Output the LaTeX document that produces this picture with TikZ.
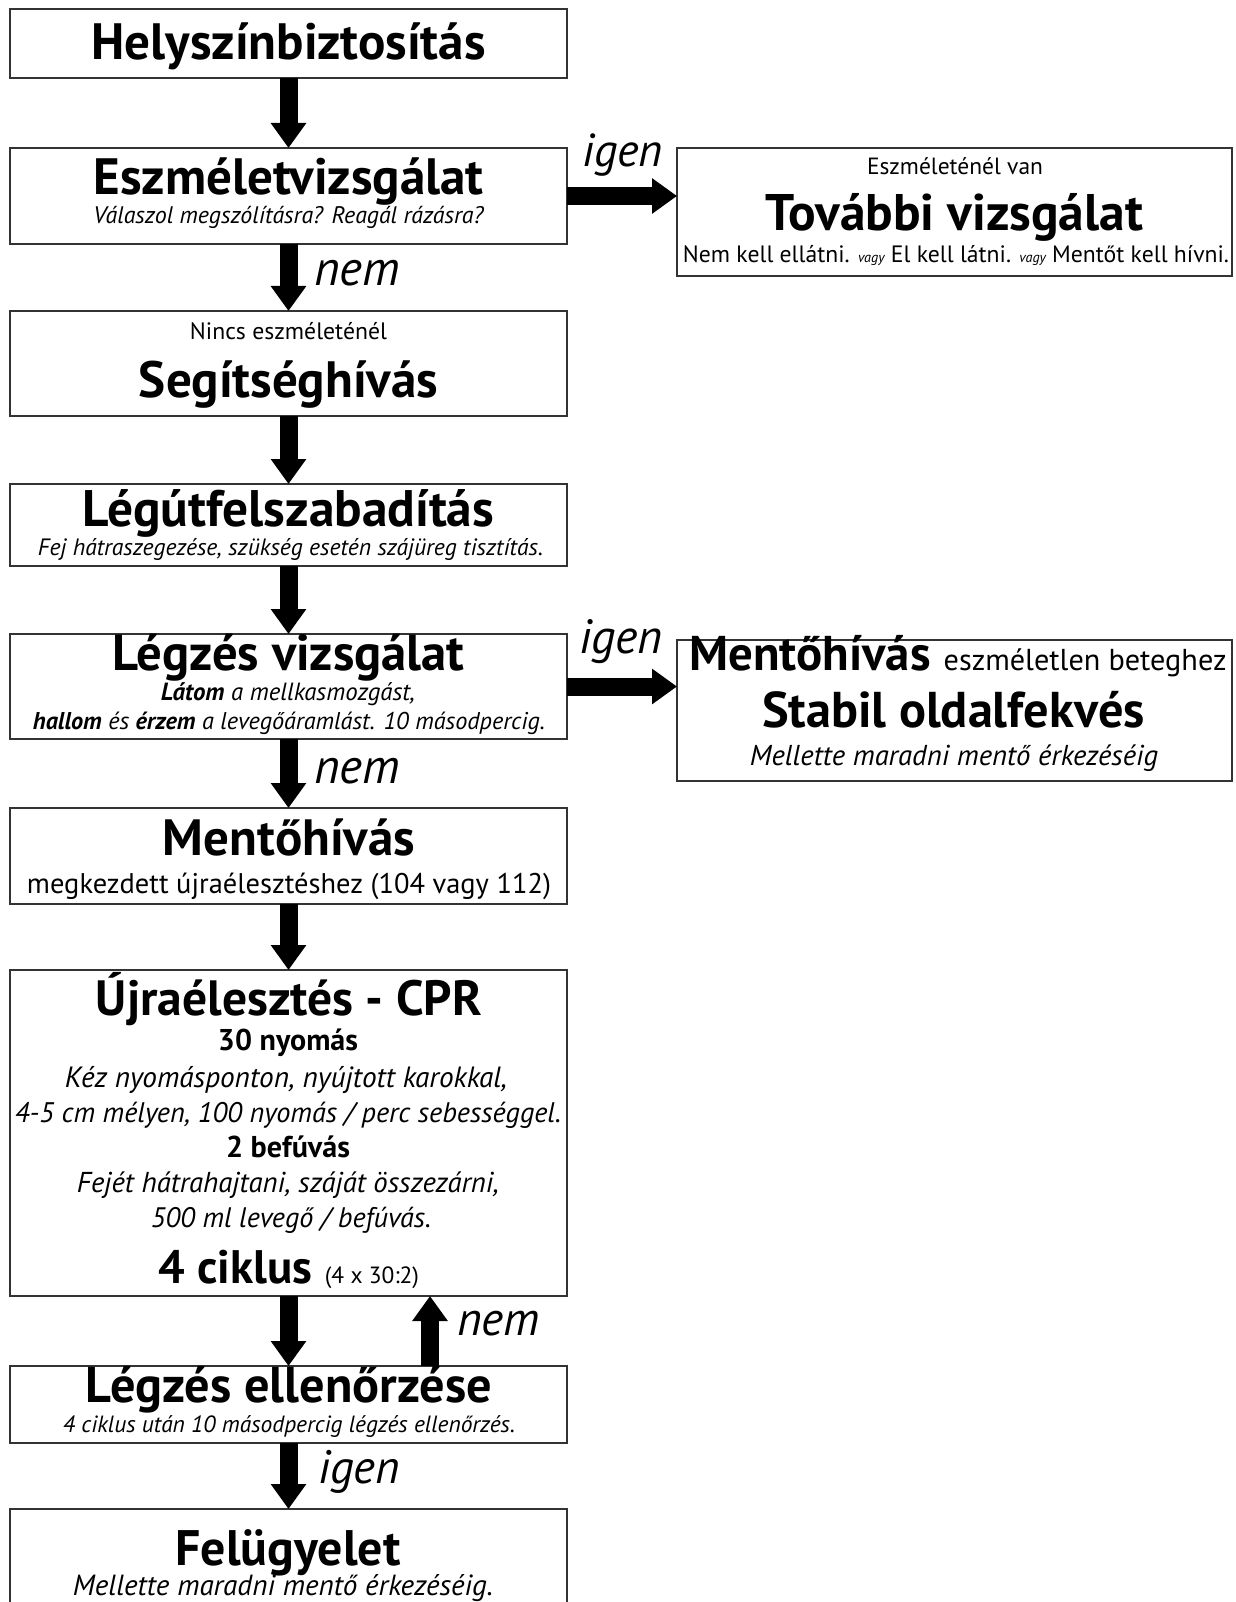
\documentclass[tikz,border=0pt]{standalone}
\usepackage{fontspec}
\setmainfont{PT Sans}
\usepackage{graphicx}
\usetikzlibrary{arrows.meta}
\newcommand\fw[2]{\resizebox{#1pt}{!}{#2}}
\tikzset{
  box/.style={draw=black!80, line width=2.2pt, rectangle, inner sep=0pt, outer sep=0pt, minimum width=557pt},
  rbox/.style={box, minimum width=555pt},
  flow/.style={line width=18pt, -{Triangle[length=25pt,width=34pt]}},
  t/.style={anchor=base, inner sep=0pt, outer sep=0pt},
  lab/.style={anchor=base west, inner sep=0pt, outer sep=0pt}
}
\begin{document}
\begin{tikzpicture}[x=1pt,y=-1pt]
\useasboundingbox (0,0) rectangle (1235,1602);
\clip (0,0) rectangle (1235,1602);
\fill[white] (0,0) rectangle (1235,1602);
% boxes
\node[box, minimum height=69pt]  (B1) at (288.5,43.5) {};
\node[box, minimum height=96pt]  (B2) at (288.5,196) {};
\node[box, minimum height=105pt] (B3) at (288.5,363.5) {};
\node[box, minimum height=82pt]  (B4) at (288.5,525) {};
\node[box, minimum height=105pt] (B5) at (288.5,686.5) {};
\node[box, minimum height=96pt]  (B6) at (288.5,856) {};
\node[box, minimum height=326pt] (B7) at (288.5,1133) {};
\node[box, minimum height=77pt]  (B8) at (288.5,1404.5) {};
\node[box, minimum height=151pt] (B9) at (288.5,1584.5) {};
\node[rbox, minimum height=128pt] (R1) at (954.5,212) {};
\node[rbox, minimum height=141pt] (R2) at (954.5,710.5) {};
% texts
\node[t] (t1) at (288.5,60) {\fw{394}{\bfseries Helyszínbiztosítás}};
\node[t] (t2a) at (288.5,195) {\fw{390}{\bfseries Eszméletvizsgálat}};
\node[t] (t2b) at (288.5,224) {\fw{390}{\itshape Válaszol megszólításra? Reagál rázásra?}};
\node[t] (t3a) at (288.5,339) {\fw{197}{Nincs eszméleténél}};
\node[t] (t3b) at (288.5,397) {\fw{299}{\bfseries Segítséghívás}};
\node[t] (t4a) at (288.5,526) {\fw{411}{\bfseries Légútfelszabadítás}};
\node[t] (t4b) at (290.5,555) {\fw{505}{\itshape Fej hátraszegezése, szükség esetén szájüreg tisztítás.}};
\node[t] (t5a) at (288.5,670) {\fw{352}{\bfseries Légzés vizsgálat}};
\node[t] (t5b) at (288,700) {\fw{254}{\itshape\textbf{Látom} a mellkasmozgást,}};
\node[t] (t5c) at (289,729) {\fw{512}{\itshape\textbf{hallom} és \textbf{érzem} a levegőáramlást. 10 másodpercig.}};
\node[t] (t6a) at (289,855) {\fw{252}{\bfseries Mentőhívás}};
\node[t] (t6b) at (289,893) {\fw{524}{megkezdett újraélesztéshez (104 vagy 112)}};
\node[t] (t7a) at (289,1015) {\fw{386}{\bfseries Újraélesztés - CPR}};
\node[t] (t7b) at (288,1050) {\fw{140}{\bfseries 30 nyomás}};
\node[t] (t7c) at (286,1087) {\fw{442}{\itshape Kéz nyomásponton, nyújtott karokkal,}};
\node[t] (t7d) at (288,1122) {\fw{546}{\itshape 4-5 cm mélyen, 100 nyomás / perc sebességgel.}};
\node[t] (t7e) at (288,1157) {\fw{124}{\bfseries 2 befúvás}};
\node[t] (t7f) at (288,1192) {\fw{422}{\itshape Fejét hátrahajtani, száját összezárni,}};
\node[t] (t7g) at (291,1227) {\fw{280}{\itshape 500 ml levegő / befúvás.}};
\node[t] (t7h) at (289,1283) {\fw{260}{{\bfseries 4 ciklus} {\fontsize{5}{6}\selectfont (4 x 30:2)}}};
\node[t] (t8a) at (289,1402) {\fw{406}{\bfseries Légzés ellenőrzése}};
\node[t] (t8b) at (289,1432) {\fw{452}{\itshape 4 ciklus után 10 másodpercig légzés ellenőrzés.}};
\node[t] (t9a) at (288,1565) {\fw{225}{\bfseries Felügyelet}};
\node[t] (t9b) at (283,1595) {\fw{420}{\itshape Mellette maradni mentő érkezéséig.}};
\node[t] (r1a) at (955,175) {\fw{176}{Eszméleténél van}};
\node[t] (r1b) at (954.5,231) {\fw{377}{\bfseries További vizsgálat}};
\node[t] (r1c) at (956,262) {\fw{546}{Nem kell ellátni. {\itshape\fontsize{6}{7}\selectfont vagy} El kell látni. {\itshape\fontsize{6}{7}\selectfont vagy} Mentőt kell hívni.}};
\node[t] (r2a) at (958,670) {\fw{537}{{\bfseries Mentőhívás} {\fontsize{6.2}{7}\selectfont eszméletlen beteghez}}};
\node[t] (r2b) at (953.5,727) {\fw{383}{\bfseries Stabil oldalfekvés}};
\node[t] (r2c) at (954,765) {\fw{408}{\itshape Mellette maradni mentő érkezéséig}};
% labels
\node[lab] (l1) at (582,167) {\fw{81}{\itshape igen}};
\node[lab] (l2) at (314,286) {\fw{86}{\itshape nem}};
\node[lab] (l3) at (579,653) {\fw{84}{\itshape igen}};
\node[lab] (l4) at (314,783) {\fw{86}{\itshape nem}};
\node[lab] (l5) at (457,1335) {\fw{83}{\itshape nem}};
\node[lab] (l6) at (318,1483) {\fw{82}{\itshape igen}};
% connectors
\draw[flow] (B1.south) -- (B2.north);
\draw[flow] (B2.south) -- (B3.north);
\draw[flow] (B3.south) -- (B4.north);
\draw[flow] (B4.south) -- (B5.north);
\draw[flow] (B5.south) -- (B6.north);
\draw[flow] (B6.south) -- (B7.north);
\draw[flow] (B7.south) -- (B8.north);
\draw[flow] (B8.south) -- (B9.north);
\draw[flow] ([xshift=141.5pt]B8.north) -- ([xshift=141.5pt]B7.south);
\draw[flow] (B2.east) -- (B2.east -| R1.west);
\draw[flow] (B5.east) -- (B5.east -| R2.west);
\end{tikzpicture}
\end{document}
